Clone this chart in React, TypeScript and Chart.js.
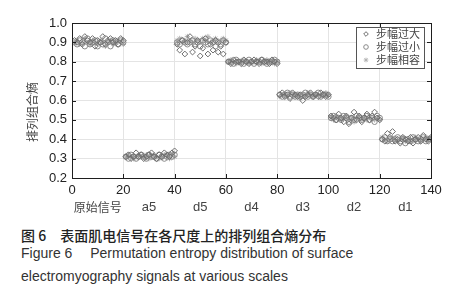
import React, { useEffect, useRef } from "react";
import { Chart, registerables } from "chart.js";

Chart.register(...registerables);

const seriesNames = ["步幅过大", "步幅过小", "步幅相容"];
const segmentLabels = ["原始信号", "a5", "d5", "d4", "d3", "d2", "d1"];
const xTicks = [0, 20, 40, 60, 80, 100, 120, 140];
const yTicks = [0.2, 0.3, 0.4, 0.5, 0.6, 0.7, 0.8, 0.9, 1.0];
const yAxisTitle = "排列组合熵";

const bigStep = [
  0.91, 0.90, 0.92, 0.89, 0.93, 0.91, 0.90, 0.92, 0.88, 0.91, 0.90, 0.93, 0.89, 0.91, 0.92, 0.90, 0.91, 0.89, 0.92, 0.91,
  0.31, 0.32, 0.30, 0.31, 0.33, 0.31, 0.32, 0.30, 0.31, 0.32, 0.33, 0.31, 0.30, 0.32, 0.31, 0.33, 0.32, 0.31, 0.33, 0.34,
  0.89, 0.86, 0.91, 0.84, 0.90, 0.93, 0.85, 0.88, 0.91, 0.83, 0.87, 0.92, 0.84, 0.89, 0.86, 0.91, 0.85, 0.88, 0.84, 0.90,
  0.80, 0.79, 0.81, 0.80, 0.80, 0.79, 0.81, 0.80, 0.79, 0.80, 0.81, 0.80, 0.79, 0.81, 0.80, 0.80, 0.79, 0.81, 0.80, 0.79,
  0.63, 0.64, 0.62, 0.63, 0.61, 0.64, 0.63, 0.62, 0.63, 0.60, 0.62, 0.63, 0.64, 0.62, 0.63, 0.62, 0.64, 0.63, 0.62, 0.63,
  0.52, 0.51, 0.50, 0.53, 0.51, 0.49, 0.52, 0.48, 0.51, 0.54, 0.50, 0.52, 0.49, 0.51, 0.53, 0.50, 0.52, 0.54, 0.51, 0.50,
  0.40, 0.39, 0.43, 0.41, 0.44, 0.39, 0.40, 0.38, 0.41, 0.40, 0.39, 0.41, 0.38, 0.40, 0.41, 0.39, 0.42, 0.40, 0.39, 0.41,
];

const smallStep = [
  0.90, 0.89, 0.91, 0.90, 0.88, 0.92, 0.89, 0.90, 0.91, 0.88, 0.90, 0.89, 0.92, 0.90, 0.88, 0.91, 0.90, 0.89, 0.91, 0.90,
  0.31, 0.30, 0.32, 0.31, 0.30, 0.31, 0.32, 0.31, 0.30, 0.32, 0.31, 0.31, 0.30, 0.32, 0.31, 0.30, 0.31, 0.32, 0.31, 0.32,
  0.90, 0.89, 0.91, 0.90, 0.89, 0.90, 0.91, 0.89, 0.90, 0.88, 0.91, 0.90, 0.89, 0.91, 0.90, 0.88, 0.90, 0.89, 0.91, 0.90,
  0.80, 0.80, 0.79, 0.81, 0.80, 0.80, 0.79, 0.80, 0.81, 0.80, 0.79, 0.80, 0.80, 0.81, 0.80, 0.79, 0.80, 0.80, 0.81, 0.80,
  0.63, 0.62, 0.63, 0.64, 0.62, 0.63, 0.62, 0.63, 0.62, 0.63, 0.64, 0.62, 0.63, 0.62, 0.63, 0.64, 0.62, 0.63, 0.63, 0.62,
  0.51, 0.52, 0.50, 0.51, 0.50, 0.52, 0.51, 0.49, 0.51, 0.50, 0.52, 0.51, 0.50, 0.51, 0.52, 0.50, 0.51, 0.49, 0.52, 0.51,
  0.40, 0.41, 0.39, 0.40, 0.39, 0.40, 0.41, 0.39, 0.40, 0.38, 0.40, 0.39, 0.41, 0.40, 0.39, 0.40, 0.41, 0.39, 0.40, 0.40,
];

const fitStep = [
  0.90, 0.91, 0.89, 0.90, 0.92, 0.90, 0.89, 0.91, 0.90, 0.89, 0.91, 0.90, 0.88, 0.90, 0.91, 0.89, 0.90, 0.91, 0.90, 0.89,
  0.31, 0.32, 0.31, 0.30, 0.31, 0.32, 0.31, 0.31, 0.32, 0.30, 0.31, 0.32, 0.31, 0.30, 0.31, 0.32, 0.31, 0.30, 0.32, 0.31,
  0.91, 0.92, 0.90, 0.91, 0.93, 0.91, 0.90, 0.92, 0.91, 0.90, 0.92, 0.91, 0.93, 0.90, 0.91, 0.92, 0.90, 0.91, 0.92, 0.91,
  0.80, 0.81, 0.80, 0.79, 0.80, 0.80, 0.81, 0.80, 0.79, 0.80, 0.80, 0.81, 0.80, 0.79, 0.80, 0.81, 0.80, 0.80, 0.79, 0.80,
  0.62, 0.63, 0.63, 0.62, 0.64, 0.63, 0.62, 0.63, 0.61, 0.63, 0.62, 0.64, 0.63, 0.62, 0.63, 0.63, 0.62, 0.63, 0.64, 0.63,
  0.51, 0.50, 0.52, 0.51, 0.50, 0.51, 0.52, 0.50, 0.51, 0.49, 0.51, 0.52, 0.50, 0.51, 0.50, 0.52, 0.51, 0.50, 0.51, 0.50,
  0.41, 0.40, 0.39, 0.40, 0.41, 0.40, 0.39, 0.40, 0.41, 0.39, 0.40, 0.40, 0.39, 0.41, 0.40, 0.39, 0.40, 0.41, 0.40, 0.41,
];

const captionCn = "图 6\u3000表面肌电信号在各尺度上的排列组合熵分布";
const captionEn1 = "Figure 6\u2003 Permutation entropy distribution of surface";
const captionEn2 = "electromyography signals at various scales";

const LATIN = '"Liberation Sans", Arial, sans-serif';
const CJK = '"Noto Sans CJK SC", sans-serif';

const toPoints = (arr: number[]) => arr.map((v, i) => ({ x: i + 1, y: v }));

const styles = [
  { pointStyle: "rectRot", radius: 2.9, color: "#6e6e6e", fill: "rgba(0,0,0,0)" },
  { pointStyle: "circle", radius: 2.7, color: "#8a8a8a", fill: "rgba(0,0,0,0)" },
  { pointStyle: "star", radius: 2.7, color: "#b4b4b4", fill: "#c8c8c8" },
];

function drawMarker(ctx: CanvasRenderingContext2D, kind: string, x: number, y: number, r: number) {
  ctx.beginPath();
  if (kind === "rectRot") {
    ctx.moveTo(x, y - r);
    ctx.lineTo(x + r, y);
    ctx.lineTo(x, y + r);
    ctx.lineTo(x - r, y);
    ctx.closePath();
  } else if (kind === "circle") {
    ctx.arc(x, y, r, 0, Math.PI * 2);
  } else {
    ctx.moveTo(x - r, y);
    ctx.lineTo(x + r, y);
    ctx.moveTo(x, y - r);
    ctx.lineTo(x, y + r);
    const d = r * 0.7;
    ctx.moveTo(x - d, y - d);
    ctx.lineTo(x + d, y + d);
    ctx.moveTo(x - d, y + d);
    ctx.lineTo(x + d, y - d);
  }
  ctx.stroke();
}

const framePlugin = {
  id: "frame",
  afterDraw(chart: any) {
    const { ctx, chartArea: a, scales } = chart;
    const xs = scales.x;
    const ys = scales.y;
    ctx.save();
    ctx.strokeStyle = "#1e1e1e";
    ctx.lineWidth = 1;
    ctx.strokeRect(Math.round(a.left) + 0.5, Math.round(a.top) + 0.5, Math.round(a.right - a.left), Math.round(a.bottom - a.top));
    ctx.beginPath();
    xTicks.forEach((t) => {
      const px = Math.round(xs.getPixelForValue(t)) + 0.5;
      ctx.moveTo(px, a.bottom);
      ctx.lineTo(px, a.bottom - 4);
      ctx.moveTo(px, a.top);
      ctx.lineTo(px, a.top + 4);
    });
    yTicks.forEach((t) => {
      const py = Math.round(ys.getPixelForValue(t)) + 0.5;
      ctx.moveTo(a.left, py);
      ctx.lineTo(a.left + 4, py);
      ctx.moveTo(a.right, py);
      ctx.lineTo(a.right - 4, py);
    });
    ctx.stroke();

    // segment labels
    ctx.fillStyle = "#444";
    ctx.textAlign = "center";
    ctx.textBaseline = "middle";
    segmentLabels.forEach((lab, k) => {
      const px = xs.getPixelForValue(20 * k + 10);
      ctx.font = /[\u4e00-\u9fff]/.test(lab) ? `12px ${CJK}` : `13px ${LATIN}`;
      ctx.fillText(lab, px, 207);
    });

    // y title
    ctx.save();
    ctx.translate(32, 112);
    ctx.rotate(-Math.PI / 2);
    ctx.font = `12px ${CJK}`;
    ctx.fillStyle = "#444";
    ctx.fillText(yAxisTitle, 0, 0);
    ctx.restore();

    // legend
    const lx = 356, ly = 27, lw = 68, lh = 41;
    ctx.fillStyle = "#fff";
    ctx.fillRect(lx, ly, lw, lh);
    ctx.strokeStyle = "#555";
    ctx.strokeRect(lx + 0.5, ly + 0.5, lw, lh);
    const rows = [34, 47, 60];
    seriesNames.forEach((name, i) => {
      const st = styles[i];
      ctx.strokeStyle = st.color;
      ctx.lineWidth = 1;
      drawMarker(ctx, st.pointStyle, 366, rows[i], 2.3);
      ctx.fillStyle = "#444";
      ctx.font = `11px ${CJK}`;
      ctx.textAlign = "left";
      ctx.textBaseline = "middle";
      ctx.fillText(name, 376, rows[i]);
    });
    ctx.restore();
  },
};

export default function App() {
  const ref = useRef<HTMLCanvasElement | null>(null);
  useEffect(() => {
    document.body.style.margin = "0";
    const chart = new Chart(ref.current as HTMLCanvasElement, {
      type: "scatter",
      data: {
        datasets: [bigStep, smallStep, fitStep].map((arr, i) => ({
          label: seriesNames[i],
          data: toPoints(arr),
          pointStyle: styles[i].pointStyle as any,
          pointRadius: styles[i].radius,
          borderColor: styles[i].color,
          backgroundColor: styles[i].fill,
          borderWidth: 1,
        })),
      },
      options: {
        animation: false,
        responsive: false,
        events: [],
        layout: { padding: { top: 23, right: 30, left: 0, bottom: 0 } },
        plugins: { legend: { display: false }, tooltip: { enabled: false } },
        scales: {
          x: {
            type: "linear",
            min: 0,
            max: 140,
            afterFit: (s: any) => { s.height = 40; },
            afterBuildTicks: (s: any) => { s.ticks = xTicks.map((v) => ({ value: v })); },
            ticks: { font: { family: LATIN, size: 13 }, color: "#222", padding: 5 },
            grid: { color: "#e4e4e4", drawTicks: false },
            border: { display: false },
          },
          y: {
            type: "linear",
            min: 0.2,
            max: 1.0,
            afterFit: (s: any) => { s.width = 72; },
            afterBuildTicks: (s: any) => { s.ticks = yTicks.map((v) => ({ value: v })); },
            ticks: {
              font: { family: LATIN, size: 13 },
              color: "#222",
              padding: 5,
              callback: (v: any) => Number(v).toFixed(1),
            },
            grid: { color: "#e4e4e4", drawTicks: false },
            border: { display: false },
          },
        },
      },
      plugins: [framePlugin],
    });
    return () => chart.destroy();
  }, []);

  const cap: React.CSSProperties = { position: "absolute", left: 21, whiteSpace: "pre", color: "#333", lineHeight: "16px" };
  return (
    <div style={{ position: "relative", width: 461, height: 300, background: "#fff", overflow: "hidden" }}>
      <canvas ref={ref} width={461} height={218} style={{ position: "absolute", left: 0, top: 0, width: 461, height: 218 }} />
      <div style={{ ...cap, top: 225, font: `500 14px ${CJK}`, color: "#222", lineHeight: "16px" }}>{captionCn}</div>
      <div style={{ ...cap, top: 245, font: `14px ${LATIN}`, lineHeight: "16px" }}>{captionEn1}</div>
      <div style={{ ...cap, top: 268, font: `14px ${LATIN}`, lineHeight: "16px" }}>{captionEn2}</div>
    </div>
  );
}
